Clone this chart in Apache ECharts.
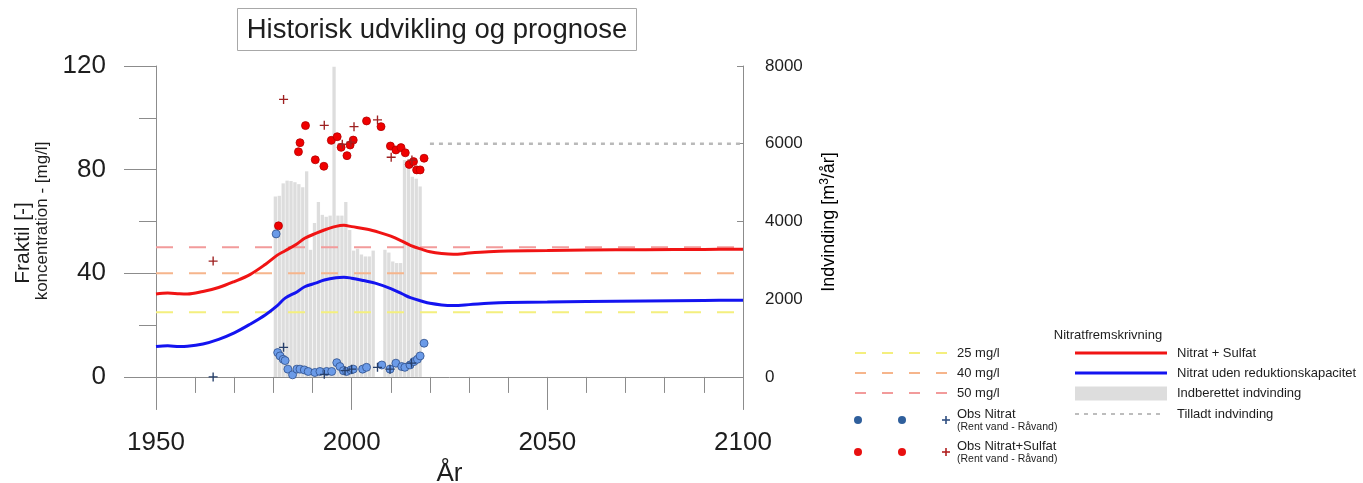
<!DOCTYPE html>
<html><head><meta charset="utf-8">
<script src="https://cdn.jsdelivr.net/npm/echarts@6/dist/echarts.min.js"></script>
<style>html,body{margin:0;padding:0;background:#fff}#c{width:1363px;height:483px}</style>
</head><body><div id="c"></div>
<script>
// ---------- DATA ----------
const titleText = 'Historisk udvikling og prognose';
const xTickLabels = [1950, 2000, 2050, 2100];
const leftTickLabels = [0, 40, 80, 120];
const leftMinorTicks = [20, 60, 100];
const rightTickLabels = [0, 2000, 4000, 6000, 8000];

// Nitrat + Sulfat (red line)  [year, mg/l]
const nitratSulfatLine = [[1950,32.0],[1953,32.4],[1956,32.1],[1958,32.0],[1962,33.0],[1966,34.5],[1970,36.8],[1974,39.5],[1978,43.5],[1981,47.0],[1983,48.7],[1986,51.3],[1988,53.5],[1991,55.5],[1993,56.7],[1996,58.1],[1998,58.5],[2000,58.0],[2004,57.0],[2007,55.8],[2010,54.3],[2013,52.3],[2015,50.8],[2018,49.2],[2020,48.3],[2023,47.6],[2026,47.3],[2030,47.8],[2035,48.3],[2040,48.6],[2050,48.8],[2060,49.0],[2075,49.1],[2090,49.2],[2100,49.3]];
// Nitrat uden reduktionskapacitet (blue line)
const nitratUdenLine = [[1950,11.7],[1953,12.0],[1956,11.7],[1958,11.8],[1962,12.7],[1966,14.5],[1970,17.0],[1974,20.3],[1978,24.0],[1981,27.5],[1983,30.4],[1986,32.8],[1988,34.8],[1991,36.3],[1993,37.4],[1996,38.3],[1998,38.5],[2000,38.1],[2003,37.2],[2006,36.2],[2010,34.1],[2013,32.0],[2015,30.6],[2018,29.2],[2020,28.4],[2023,27.8],[2026,27.6],[2030,27.9],[2035,28.4],[2040,28.7],[2050,28.9],[2060,29.1],[2075,29.3],[2090,29.5],[2100,29.6]];

// Threshold lines (mg/l)
const thresholdValues = [25, 40, 50];
const thresholdNames = ['25 mg/l', '40 mg/l', '50 mg/l'];
const yearSpan = [1950, 2100];

// Indberettet indvinding (m3/år) per year
const indvindingYears = [1980,1981,1982,1983,1984,1985,1986,1987,1988,1989,1990,1991,1992,1993,1994,1995,1996,1997,1998,1999,2000,2001,2002,2003,2004,2005,2006,2007,2008,2009,2010,2011,2012,2013,2014,2015,2016,2017];
const indvindingValues = [4640,4660,4980,5050,5040,5010,4960,4880,5290,3270,3960,4500,4170,4120,4150,7980,4150,4150,4500,3780,3250,3300,3150,3100,3100,3250,0,0,3270,3200,2970,2930,2930,5580,5540,5150,5100,4900];

// Tilladt indvinding (m3/år)
const tilladtYears = [2020, 2100];
const tilladtValue = 6000;

// Observations
const obsNitratSulfatCircle = [[1981.3,58.3],[1986.4,86.9],[1986.8,90.4],[1988.2,97.0],[1990.7,83.8],[1992.9,81.3],[1994.8,91.3],[1996.3,92.7],[1997.3,88.6],[1998.8,85.4],[1999.6,89.5],[2000.4,91.4],[2003.8,98.8],[2007.5,96.6],[2009.9,89.1],[2011.3,87.6],[2012.6,88.5],[2013.7,86.5],[2014.7,82.0],[2015.8,83.1],[2016.6,79.9],[2017.5,79.9],[2018.5,84.4]];
const obsNitratSulfatPlus = [[1964.6,44.7],[1982.6,107.1],[1993.0,97.1],[1997.6,89.8],[1999.8,90.6],[2000.6,96.6],[2006.6,99.2],[2010.1,84.8],[2015.4,83.7]];
const obsNitratCircle = [[1980.7,55.2],[1981.1,9.4],[1981.7,8.1],[1982.5,6.8],[1983.0,6.3],[1983.7,3.0],[1984.9,0.8],[1986.0,3.0],[1986.8,3.0],[1987.9,2.7],[1988.9,2.1],[1990.6,1.7],[1991.9,2.1],[1993.6,2.1],[1994.9,2.1],[1996.2,5.5],[1997.0,4.0],[1997.9,2.4],[1998.7,2.1],[1999.8,2.7],[2000.4,3.0],[2002.8,3.0],[2003.8,3.7],[2007.7,4.6],[2009.8,3.0],[2011.3,5.3],[2012.8,4.0],[2013.6,3.7],[2014.9,4.6],[2015.9,5.9],[2016.8,6.8],[2017.5,8.1],[2018.5,13.0]];
const obsNitratPlus = [[1964.6,0.0],[1982.6,11.4],[1993.0,1.0],[1998.3,2.4],[2000.0,3.0],[2006.6,3.7],[2009.8,3.0],[2015.3,5.3]];

// Legend texts
const legendTitle = 'Nitratfremskrivning';
const obsSub = '(Rent vand - Råvand)';

// ---------- STYLE ----------
const FONT = '"Liberation Sans", Arial, sans-serif';
const AX = '#8c8c8c';
const TXT = '#1e1e1e';
const thresholdColors = ['#f4ef7e', '#f6b58c', '#f29b9b'];
const RED = '#f01414', BLUE = '#1414f0';
const BAR = '#dddddd';
const PLUS = 'path://M0,4.25H10V5.75H0ZM4.25,0H5.75V10H4.25Z';

const chart = echarts.init(document.getElementById('c'), null, {renderer: 'canvas'});

const series = [];
series.push({
  type: 'bar', name: 'Indberettet indvinding', xAxisIndex: 1, yAxisIndex: 1,
  data: indvindingYears.map((y, i) => [y, indvindingValues[i]]),
  barWidth: 3.3, itemStyle: {color: BAR}, silent: true, z: 1
});
thresholdValues.forEach((v, i) => {
  series.push({
    type: 'line', name: thresholdNames[i], data: yearSpan.map(y => [y, v]),
    symbol: 'none', lineStyle: {color: thresholdColors[i], width: 2, type: [17, 16]}, z: 2
  });
});
series.push({type: 'line', name: 'Nitrat + Sulfat', data: nitratSulfatLine, smooth: 0.35, symbol: 'none', lineStyle: {color: RED, width: 3}, z: 3});
series.push({type: 'line', name: 'Nitrat uden reduktionskapacitet', data: nitratUdenLine, smooth: 0.35, symbol: 'none', lineStyle: {color: BLUE, width: 3}, z: 3});
series.push({type: 'line', name: 'Tilladt indvinding', yAxisIndex: 1, data: tilladtYears.map(y => [y, tilladtValue]), symbol: 'none', lineStyle: {color: '#b9b9b9', width: 2.5, type: [4, 5]}, z: 3});
series.push({type: 'scatter', name: 'Obs Nitrat+Sulfat', data: obsNitratSulfatCircle, symbol: 'circle', symbolSize: 8, itemStyle: {color: '#f00000', borderColor: '#b40000', borderWidth: 0.8, opacity: 1}, z: 5});
series.push({type: 'scatter', name: 'Obs Nitrat+Sulfat +', data: obsNitratSulfatPlus, symbol: PLUS, symbolSize: 9, itemStyle: {color: '#9e2020', opacity: 1}, z: 6});
series.push({type: 'scatter', name: 'Obs Nitrat', data: obsNitratCircle, symbol: 'circle', symbolSize: 8, itemStyle: {color: '#6b9be8', borderColor: '#2f4f8a', borderWidth: 0.8, opacity: 1}, z: 5});
series.push({type: 'scatter', name: 'Obs Nitrat +', data: obsNitratPlus, symbol: PLUS, symbolSize: 9, itemStyle: {color: '#263f6a', opacity: 1}, z: 6});

// ---------- GRAPHIC (title, axis names, legend) ----------
const g = [];
g.push({type: 'rect', shape: {x: 237.5, y: 8.5, width: 399, height: 42}, style: {fill: '#fff', stroke: '#a8a8a8', lineWidth: 1}, z: 10});
g.push({type: 'text', x: 437, y: 30, style: {text: titleText, font: '27.5px ' + FONT, fill: TXT, align: 'center', verticalAlign: 'middle'}, z: 11});
g.push({type: 'text', x: 23, y: 243, rotation: Math.PI / 2, style: {text: 'Fraktil [-]', font: '21px ' + FONT, fill: TXT, align: 'center', verticalAlign: 'middle'}});
g.push({type: 'text', x: 42, y: 221, rotation: Math.PI / 2, style: {text: 'koncentration - [mg/l]', font: '17px ' + FONT, fill: TXT, align: 'center', verticalAlign: 'middle'}});
g.push({type: 'text', x: 829, y: 222, rotation: Math.PI / 2, style: {
  text: '{a|Indvinding [m}{b|3}{a|/år]}', align: 'center', verticalAlign: 'middle',
  rich: {a: {fontSize: 18, fontFamily: FONT, color: TXT, lineHeight: 22}, b: {fontSize: 12, fontFamily: FONT, color: TXT, lineHeight: 22, padding: [0, 0, 9, 0]}}
}});

// Legend
const LF = '13px ' + FONT, SF = '10.5px ' + FONT;
g.push({type: 'text', x: 1108, y: 335, style: {text: legendTitle, font: LF, fill: TXT, align: 'center', verticalAlign: 'middle'}});
const rowY = [353, 373, 393];
thresholdNames.forEach((n, i) => {
  g.push({type: 'line', shape: {x1: 855, y1: rowY[i], x2: 947, y2: rowY[i]}, style: {stroke: thresholdColors[i], lineWidth: 2, lineDash: [11, 16]}});
  g.push({type: 'text', x: 957, y: rowY[i], style: {text: n, font: LF, fill: TXT, verticalAlign: 'middle'}});
});
function obsRow(y, circ, plus, label) {
  g.push({type: 'circle', shape: {cx: 858, cy: y, r: 4}, style: {fill: circ}});
  g.push({type: 'circle', shape: {cx: 902, cy: y, r: 4}, style: {fill: circ}});
  g.push({type: 'line', shape: {x1: 942, y1: y, x2: 950, y2: y}, style: {stroke: plus, lineWidth: 1.6}});
  g.push({type: 'line', shape: {x1: 946, y1: y - 4, x2: 946, y2: y + 4}, style: {stroke: plus, lineWidth: 1.6}});
  g.push({type: 'text', x: 957, y: y - 6, style: {text: label, font: LF, fill: TXT, verticalAlign: 'middle'}});
  g.push({type: 'text', x: 957, y: y + 7, style: {text: obsSub, font: SF, fill: TXT, verticalAlign: 'middle'}});
}
obsRow(420, '#2f5f9c', '#2f4f80', 'Obs Nitrat');
obsRow(452, '#e81010', '#b02020', 'Obs Nitrat+Sulfat');
g.push({type: 'line', shape: {x1: 1075, y1: 353, x2: 1167, y2: 353}, style: {stroke: RED, lineWidth: 3}});
g.push({type: 'text', x: 1177, y: 353, style: {text: 'Nitrat + Sulfat', font: LF, fill: TXT, verticalAlign: 'middle'}});
g.push({type: 'line', shape: {x1: 1075, y1: 373, x2: 1167, y2: 373}, style: {stroke: BLUE, lineWidth: 3}});
g.push({type: 'text', x: 1177, y: 373, style: {text: 'Nitrat uden reduktionskapacitet', font: LF, fill: TXT, verticalAlign: 'middle'}});
g.push({type: 'rect', shape: {x: 1075, y: 386.5, width: 92, height: 14}, style: {fill: BAR}});
g.push({type: 'text', x: 1177, y: 393, style: {text: 'Indberettet indvinding', font: LF, fill: TXT, verticalAlign: 'middle'}});
g.push({type: 'line', shape: {x1: 1075, y1: 414, x2: 1165, y2: 414}, style: {stroke: '#bdbdbd', lineWidth: 2, lineDash: [4, 5]}});
g.push({type: 'text', x: 1177, y: 414, style: {text: 'Tilladt indvinding', font: LF, fill: TXT, verticalAlign: 'middle'}});

const option = {
  animation: false,
  backgroundColor: '#fff',
  textStyle: {fontFamily: FONT},
  grid: {left: 156, right: 620, top: 66, bottom: 75, containLabel: false, outerBoundsMode: 'none'},
  xAxis: [{
    type: 'value', min: 1950, max: 2100, interval: 50,
    axisLine: {show: true, onZero: true, lineStyle: {color: AX, width: 1}},
    axisTick: {show: true, length: 33, lineStyle: {color: AX}},
    minorTick: {show: true, splitNumber: 5, length: 16, lineStyle: {color: AX}},
    axisLabel: {margin: 22, fontSize: 26, color: TXT, fontFamily: FONT, formatter: v => String(v), customValues: xTickLabels},
    splitLine: {show: false}, minorSplitLine: {show: false},
    name: 'År', nameLocation: 'middle', nameGap: 45,
    nameTextStyle: {fontSize: 26, color: TXT, fontFamily: FONT}
  }, {
    type: 'value', min: 1949.5, max: 2099.5, show: false
  }],
  yAxis: [{
    type: 'value', min: -12, max: 120, position: 'left',
    axisLine: {show: true, onZero: false, lineStyle: {color: AX}},
    axisTick: {show: true, length: 32, lineStyle: {color: AX}, customValues: leftTickLabels},
    axisLabel: {margin: 50, fontSize: 26, color: TXT, fontFamily: FONT, customValues: leftTickLabels, formatter: v => String(v)},
    splitLine: {show: false}
  }, {
    type: 'value', min: -800, max: 8000, position: 'right',
    axisLine: {show: true, onZero: false, lineStyle: {color: AX}},
    axisTick: {show: true, inside: true, length: 6, lineStyle: {color: AX}, customValues: rightTickLabels},
    axisLabel: {margin: 22, fontSize: 17, color: TXT, fontFamily: FONT, customValues: rightTickLabels, formatter: v => String(v)},
    splitLine: {show: false}
  }, {
    type: 'value', min: -12, max: 120, position: 'left', offset: 0,
    axisLine: {show: false, onZero: false},
    axisTick: {show: true, length: 17, lineStyle: {color: AX}, customValues: leftMinorTicks},
    axisLabel: {show: false},
    splitLine: {show: false}
  }],
  series: series,
  graphic: g
};
chart.setOption(option);
</script></body></html>
